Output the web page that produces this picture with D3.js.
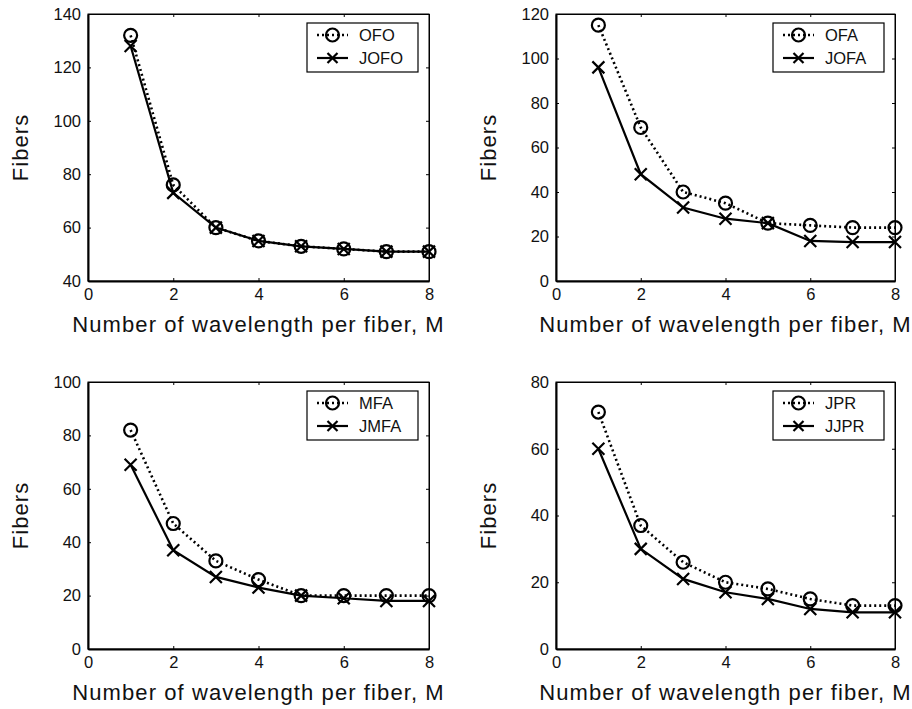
<!DOCTYPE html>
<html>
<head>
<meta charset="utf-8">
<script src="https://cdn.jsdelivr.net/npm/d3@7"></script>
<style>
  body { margin: 0; background: #fff; }
  svg { display: block; font-family: "Liberation Sans", Arial, sans-serif; }
</style>
</head>
<body>
<div id="chart"></div>
<script>
// wavelengths per fiber (x values)
const mValues = [1, 2, 3, 4, 5, 6, 7, 8];
const xTicks = [0, 2, 4, 6, 8];

// panel 1
const ofo  = [132, 76, 60, 55, 53, 52, 51, 51];
const jofo = [128, 73, 60, 55, 53, 52, 51, 51];
// panel 2
const ofa  = [115, 69, 40, 35, 26, 25, 24, 24];
const jofa = [96, 48, 33, 28, 26, 18, 17.5, 17.5];
// panel 3
const mfa  = [82, 47, 33, 26, 20, 20, 20, 20];
const jmfa = [69, 37, 27, 23, 20, 19, 18, 18];
// panel 4
const jpr  = [71, 37, 26, 20, 18, 15, 13, 13];
const jjpr = [60, 30, 21, 17, 15, 12, 11, 11];

const yTicks1 = [40, 60, 80, 100, 120, 140];
const yTicks2 = [0, 20, 40, 60, 80, 100, 120];
const yTicks3 = [0, 20, 40, 60, 80, 100];
const yTicks4 = [0, 20, 40, 60, 80];

const xLabel = "Number of wavelength per fiber, M";
const yLabel = "Fibers";

// panel setup: pixel box + which data to draw
let panels = [
  {left: 88, top: 14, w: 341, h: 267, ticks: yTicks1, names: ["OFO", "JOFO"], a: ofo, b: jofo, ylx: 20},
  {left: 556, top: 14, w: 339, h: 267, ticks: yTicks2, names: ["OFA", "JOFA"], a: ofa, b: jofa, ylx: 488},
  {left: 88, top: 382, w: 341, h: 267, ticks: yTicks3, names: ["MFA", "JMFA"], a: mfa, b: jmfa, ylx: 20},
  {left: 556, top: 382, w: 339, h: 267, ticks: yTicks4, names: ["JPR", "JJPR"], a: jpr, b: jjpr, ylx: 488}
];

let svg = d3.select("#chart").append("svg")
  .attr("width", 912)
  .attr("height", 709);

function drawX(g, cx, cy, s) {
  g.append("path")
    .attr("d", "M" + (cx - s) + "," + (cy - s) + "L" + (cx + s) + "," + (cy + s) +
               "M" + (cx - s) + "," + (cy + s) + "L" + (cx + s) + "," + (cy - s))
    .attr("stroke", "#000")
    .attr("stroke-width", 2.2)
    .attr("fill", "none");
}

function drawCircle(g, cx, cy) {
  g.append("circle")
    .attr("cx", cx).attr("cy", cy).attr("r", 6.5)
    .attr("fill", "none")
    .attr("stroke", "#000")
    .attr("stroke-width", 2.2);
}

panels.forEach(function(p) {
  let g = svg.append("g").attr("transform", "translate(" + p.left + "," + p.top + ")");

  let x = d3.scaleLinear().domain([0, 8]).range([0, p.w]);
  let y = d3.scaleLinear().domain(d3.extent(p.ticks)).range([p.h, 0]);

  // frame
  g.append("rect")
    .attr("width", p.w).attr("height", p.h)
    .attr("fill", "#fff").attr("stroke", "#000").attr("stroke-width", 1);

  // bottom axis
  let xAxis = g.append("g")
    .attr("transform", "translate(0," + p.h + ")")
    .call(d3.axisBottom(x).tickValues(xTicks).tickSizeInner(-3).tickSizeOuter(0).tickPadding(7));
  // left axis
  let yAxis = g.append("g")
    .call(d3.axisLeft(y).tickValues(p.ticks).tickSizeInner(-3).tickSizeOuter(0).tickPadding(7));
  // mirrored ticks top / right
  g.append("g").call(d3.axisTop(x).tickValues(xTicks).tickSizeInner(-3).tickSizeOuter(0).tickFormat(""));
  g.append("g").attr("transform", "translate(" + p.w + ",0)")
    .call(d3.axisRight(y).tickValues(p.ticks).tickSizeInner(-3).tickSizeOuter(0).tickFormat(""));

  [xAxis, yAxis].forEach(function(ax) {
    ax.select(".domain").attr("stroke-width", 2);
    ax.selectAll("text").attr("font-size", 16.5).attr("fill", "#111")
      .attr("font-family", "Liberation Sans, Arial, sans-serif");
  });
  g.selectAll(".domain").attr("stroke", "#000");
  g.selectAll(".tick line").attr("stroke", "#000");

  // axis titles
  g.append("text")
    .attr("x", p.w / 2)
    .attr("y", p.h + 51)
    .attr("text-anchor", "middle")
    .attr("font-size", 22)
    .attr("letter-spacing", 1.1)
    .attr("fill", "#111")
    .text(xLabel);
  svg.append("text")
    .attr("transform", "translate(" + (p.ylx + 8) + "," + (p.top + p.h / 2) + ") rotate(-90)")
    .attr("text-anchor", "middle")
    .attr("font-size", 22)
    .attr("letter-spacing", 1.1)
    .attr("fill", "#111")
    .text(yLabel);

  let line = d3.line()
    .x(function(d, i) { return x(mValues[i]); })
    .y(function(d) { return y(d); });

  // dotted series with circles
  g.append("path")
    .datum(p.a)
    .attr("d", line)
    .attr("fill", "none")
    .attr("stroke", "#000")
    .attr("stroke-width", 2.6)
    .attr("stroke-dasharray", "2,3");
  // solid series with crosses
  g.append("path")
    .datum(p.b)
    .attr("d", line)
    .attr("fill", "none")
    .attr("stroke", "#000")
    .attr("stroke-width", 2.2);

  p.a.forEach(function(d, i) { drawCircle(g, x(mValues[i]), y(d)); });
  p.b.forEach(function(d, i) { drawX(g, x(mValues[i]), y(d), 6); });

  // legend
  let lg = g.append("g").attr("transform", "translate(" + (p.w - 122) + ",9)");
  lg.append("rect")
    .attr("width", 111).attr("height", 49)
    .attr("fill", "#fff").attr("stroke", "#000").attr("stroke-width", 1.2);
  lg.append("line")
    .attr("x1", 10).attr("x2", 41).attr("y1", 12).attr("y2", 12)
    .attr("stroke", "#000").attr("stroke-width", 2.6).attr("stroke-dasharray", "2,3");
  drawCircle(lg, 25.5, 12);
  lg.append("line")
    .attr("x1", 10).attr("x2", 41).attr("y1", 35).attr("y2", 35)
    .attr("stroke", "#000").attr("stroke-width", 2.2);
  drawX(lg, 25.5, 35, 5);
  lg.append("text").attr("x", 52).attr("y", 18).attr("font-size", 16.5).attr("fill", "#111").text(p.names[0]);
  lg.append("text").attr("x", 52).attr("y", 41).attr("font-size", 16.5).attr("fill", "#111").text(p.names[1]);
});
</script>
</body>
</html>
